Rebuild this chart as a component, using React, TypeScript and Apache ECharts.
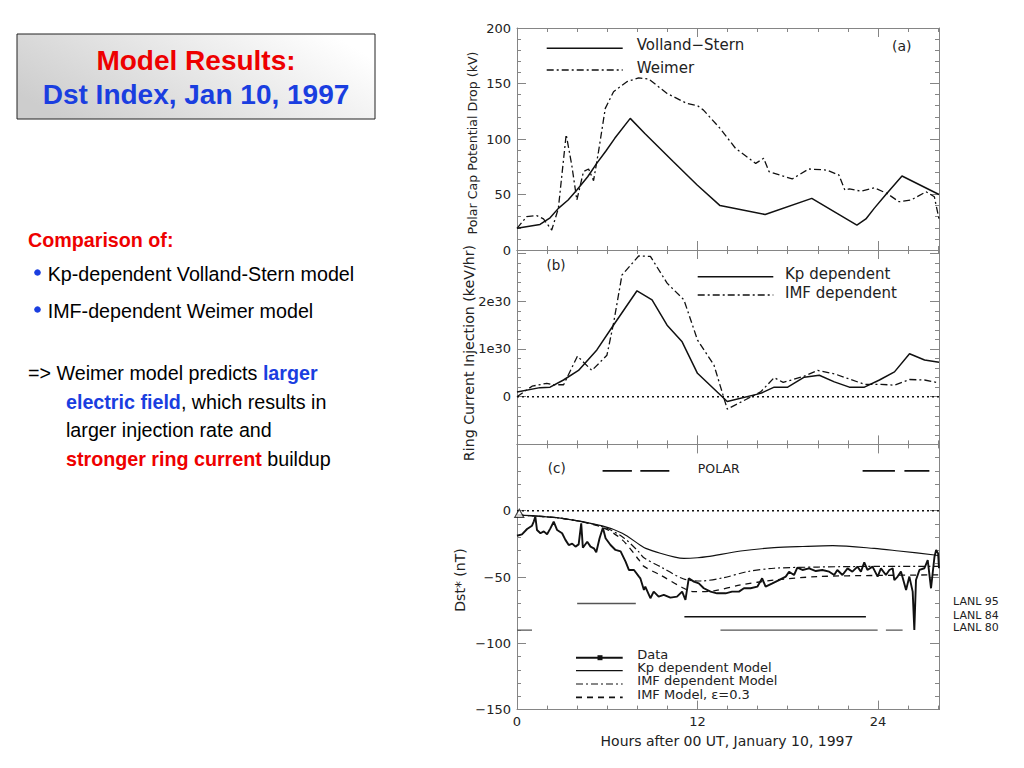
import React, { useEffect, useRef } from "react";
import * as echarts from "echarts";

// ---------- data (hours after 00 UT, value) ----------
const XMAX = 28.06;

// Panel (a): polar cap potential drop (kV)
const vollandStern: number[][] = [
  [0, 19.5], [1.53, 23], [2.2, 29], [2.75, 37.5], [3.4, 45], [3.98, 54], [4.7, 66], [5.3, 78],
  [5.9, 89], [6.5, 100.6], [7.53, 118.6], [8.5, 105], [10.4, 79.5], [11.98, 58.5], [13.5, 40],
  [16.5, 32], [19.6, 46.5], [22.6, 22.5], [23.2, 28], [23.75, 37.5], [24.5, 49.5], [25.6, 66.7],
  [28.06, 50],
];
const weimer: number[][] = [
  [0, 19.5], [0.64, 30], [1.31, 31], [1.76, 28], [2.31, 18], [2.75, 37.5], [3.27, 104], [3.64, 76.6],
  [3.98, 45], [4.42, 70.6], [4.76, 73], [5.09, 62.5], [5.42, 88.6], [5.87, 127.6], [6.42, 142.6],
  [7.31, 151.6], [8.09, 155], [8.76, 154], [9.98, 141], [11.3, 132], [12, 130], [12.4, 126],
  [13.5, 109.6], [14.53, 91.6], [15.87, 78], [16.4, 82.6], [16.76, 70.6], [18.3, 64], [19.4, 73],
  [20.6, 72], [21.4, 67.6], [21.8, 54], [22.1, 55], [22.87, 53], [23.75, 56], [24.6, 51],
  [25.4, 43.5], [26.2, 45], [27.2, 52.5], [27.75, 48], [28.06, 28],
];

// Panel (b): ring current injection (units of 1e30 keV/hr)
const kpInjection: number[][] = [
  [0, 0.1], [1.53, 0.19], [2.2, 0.2], [3.09, 0.35], [4.09, 0.55], [5.31, 0.98], [6.31, 1.45],
  [7.98, 2.22], [8.98, 2.03], [9.98, 1.5], [10.98, 1.15], [12, 0.49], [13.98, -0.1], [16.2, 0.07],
  [17.1, 0.2], [18, 0.2], [19.1, 0.41], [20.1, 0.45], [21.1, 0.31], [22.1, 0.2], [23.1, 0.2],
  [24.1, 0.35], [25.1, 0.52], [26.1, 0.9], [27.1, 0.77], [28.06, 0.72],
];
const imfInjection: number[][] = [
  [0, 0], [1, 0.22], [1.98, 0.28], [2.4, 0.25], [3.1, 0.25], [4.02, 0.85], [4.98, 0.55], [5.98, 0.87],
  [6.42, 1.54], [6.98, 2.55], [8.09, 2.95], [8.87, 2.94], [9.98, 2.38], [11.1, 2.03], [12, 1.19],
  [13.1, 0.66], [13.98, -0.26], [16.2, 0.1], [17.1, 0.4], [17.7, 0.3], [19.1, 0.43], [20, 0.55],
  [21.1, 0.48], [23.1, 0.26], [24.2, 0.26], [25.1, 0.24], [26.1, 0.36], [27.1, 0.35], [28.06, 0.29],
];

// Panel (c): Dst* (nT)
const dstData: number[][] = [
  [0, -18.9], [0.33, -17.8], [0.67, -13.8], [1.0, -11.3], [1.12, -8], [1.22, -4.5], [1.33, -14.6],
  [1.56, -17], [1.78, -15.6], [2.0, -17.8], [2.22, -13.3], [2.44, -8.3], [2.67, -14.6], [3.0, -17],
  [3.22, -22], [3.44, -25.9], [3.67, -24.8], [3.89, -27.1], [4.1, -25.4], [4.27, -9.5], [4.38, -27.9],
  [4.67, -23.4], [4.89, -27.1], [5.11, -28.4], [5.27, -31.4], [5.49, -20.8], [5.71, -12.8],
  [5.89, -20.8], [6.22, -25.9], [6.55, -29.6], [6.89, -30.7], [7.22, -38.4], [7.44, -44.7],
  [7.78, -44.7], [8.11, -49.7], [8.2, -51], [8.44, -59.8], [8.53, -57.3], [8.87, -66], [9.09, -61],
  [9.42, -64.8], [9.76, -63.5], [10.2, -65.6], [10.64, -64.8], [10.98, -61], [11.2, -67.3],
  [11.42, -51], [11.76, -53.5], [12.09, -54.8], [12.42, -58.5], [12.87, -61], [13.3, -62.3],
  [13.87, -62.3], [14.3, -61], [14.76, -61], [15.09, -58.5], [15.53, -58.5], [15.98, -57.3],
  [16.3, -51], [16.53, -57.3], [16.98, -54.8], [17.42, -52.3], [17.87, -49.7], [18.09, -46],
  [18.42, -48.5], [18.64, -43], [18.98, -44.7], [19.42, -43.5], [19.87, -45.5], [20.3, -44.7],
  [20.76, -46], [21.09, -48.5], [21.3, -44.7], [21.64, -48.5], [21.98, -43.5], [22.3, -46],
  [22.64, -42.2], [22.87, -46], [23.09, -38.9], [23.3, -44.7], [23.64, -42.2], [23.98, -49.7],
  [24.2, -43.5], [24.53, -48.5], [24.76, -44.7], [24.98, -43.4], [25.09, -52.3], [25.31, -49.7],
  [25.53, -45.9], [25.87, -59.8], [26.09, -49.7], [26.31, -61], [26.42, -89.9], [26.53, -52.3],
  [26.76, -44.7], [27.09, -43.4], [27.31, -37.2], [27.53, -58.5], [27.76, -34.7], [27.87, -29.6],
  [28.0, -32.2], [28.06, -43.4],
];
const kpModel: number[][] = [
  [0, -3.2], [3, -5.8], [5.67, -11.5], [7, -17], [8.2, -26], [8.56, -28.4], [9.53, -32.1],
  [10.5, -35], [11.09, -35.9], [12, -35.5], [12.64, -34.7], [14.87, -30.4], [17.1, -27.9],
  [19, -27], [21, -26.4], [23.75, -28.4], [25.4, -30.4], [27.76, -33.4], [28.06, -34],
];
const imfModel: number[][] = [
  [0, -3.2], [3, -5.8], [5.67, -12], [7, -19.6], [8.1, -31], [8.44, -35.5], [9.53, -42.2],
  [11.09, -51.5], [12.2, -53], [13.75, -50.5], [15.3, -46], [17.1, -43.4], [20, -42.5],
  [24, -42], [28.06, -42],
];
const imfModelEps: number[][] = [
  [0, -3.2], [3, -5.8], [5.67, -12.5], [7, -22], [8.1, -37], [8.44, -42], [9.53, -48.5],
  [11.09, -58.5], [11.76, -61], [13.1, -60.4], [14.87, -56], [17.1, -52.3], [20, -49.7],
  [24, -48.8], [28.06, -48.4],
];
const firstDataPoint: number[][] = [[0.15, -2]];

// Satellite coverage segments
const polarSegments: number[][][] = [
  [[5.69, 30], [7.64, 30]], [[8.2, 30], [10.13, 30]], [[22.98, 30], [25.13, 30]], [[25.76, 30], [27.42, 30]],
];
const lanl95Segments: number[][][] = [[[4, -70], [7.9, -70]]];
const lanl84Segments: number[][][] = [[[11.13, -80], [23.2, -80]]];
const lanl80Segments: number[][][] = [[[0, -90], [1, -90]], [[13.53, -90], [23.98, -90]], [[24.53, -90], [25.64, -90]]];

const xTickLabels = [0, 12, 24];
const dstTickLabels = [0, -50, -100, -150];
const injTickLabels = [0, 1, 2];

// ---------- styling ----------
const FRAME = "#858585";
const INK = "#111";
const TXT = "#222";
const PF = "DejaVu Sans";
const BF = "Liberation Sans";
const RED = "#ee0000";
const BLUE = "#1a3ee0";
const DASHDOT = [7, 3, 2, 3];
const DASHED = [6, 5];
const DOTTED = [2, 3];

const grids = [
  { left: 517, width: 422, top: 28, height: 222, outerBoundsMode: "none" },
  { left: 517, width: 422, top: 250, height: 194.4, outerBoundsMode: "none" },
  { left: 517, width: 422, top: 444.4, height: 265.2, outerBoundsMode: "none" },
];

const yCfg = [
  { min: 0, max: 200, major: 50, minor: 10, fmt: (v: number) => (v >= 0 && v <= 200 && v % 50 === 0 ? String(v) : "") },
  { min: -1, max: 3.075, major: 1, minor: 0.2, fmt: (v: number) => (injTickLabels.includes(v) ? (v === 0 ? "0" : v + "e30") : "") },
  { min: -150, max: 50, major: 50, minor: 10, fmt: (v: number) => (dstTickLabels.includes(v) ? (v < 0 ? "\u2212" + Math.abs(v) : "0") : "") },
];

function xAxesFor(g: number) {
  const base = (pos: string, interval: number, len: number, line: boolean, labels: boolean) => ({
    type: "value", gridIndex: g, position: pos, min: 0, max: XMAX, interval,
    splitLine: { show: false },
    axisLine: { show: line, onZero: false, lineStyle: { color: FRAME, width: 1 } },
    axisTick: { show: true, inside: true, length: len, lineStyle: { color: FRAME, width: 1 } },
    axisLabel: {
      show: labels, margin: 5, color: TXT, fontFamily: PF, fontSize: 13,
      showMaxLabel: false,
      formatter: (v: number) => (xTickLabels.includes(v) ? String(v) : ""),
    },
    silent: true,
  });
  return [
    base("bottom", 2, 4, true, false),
    base("bottom", 12, 9, false, g === 2),
    base("top", 2, 4, true, false),
    base("top", 12, 9, false, false),
  ];
}

function yAxesFor(g: number) {
  const c = yCfg[g];
  const base = (pos: string, interval: number, len: number, line: boolean, labels: boolean) => ({
    type: "value", gridIndex: g, position: pos, min: c.min, max: c.max, interval,
    splitLine: { show: false },
    axisLine: { show: line, onZero: false, lineStyle: { color: FRAME, width: 1 } },
    axisTick: { show: true, inside: true, length: len, lineStyle: { color: FRAME, width: 1 } },
    axisLabel: { show: labels, margin: 6, color: TXT, fontFamily: PF, fontSize: 13, formatter: c.fmt },
    silent: true,
  });
  return [
    base("left", c.minor, 4, true, false),
    base("left", c.major, 9, false, true),
    base("right", c.minor, 4, true, false),
    base("right", c.major, 9, false, false),
  ];
}

function line(data: number[][], g: number, width: number, type: any, opts: any = {}) {
  return {
    type: "line", xAxisIndex: 4 * g, yAxisIndex: 4 * g, data, symbol: "none", showSymbol: false,
    silent: true, smooth: opts.smooth || false, z: opts.z || 3,
    lineStyle: { color: opts.color || INK, width, type },
  };
}

function txt(x: number, y: number, text: string, size: number, opts: any = {}) {
  const align = opts.align || "left";
  return {
    type: "text", x, y, rotation: opts.rotation || 0, silent: true,
    style: {
      text, fill: opts.fill || TXT, fontSize: size, fontFamily: opts.font || PF,
      fontWeight: opts.weight || "normal",
      align, textAlign: align, verticalAlign: "middle", textVerticalAlign: "middle",
      rich: opts.rich,
    },
  };
}

function seg(x1: number, x2: number, y: number, width: number, dash: any, color = INK) {
  return {
    type: "line", silent: true,
    shape: { x1, y1: y, x2, y2: y },
    style: { stroke: color, lineWidth: width, lineDash: dash },
  };
}

const bodyRich = {
  b: { fill: BLUE, fontWeight: "bold", fontSize: 19.7, fontFamily: BF },
  r: { fill: RED, fontWeight: "bold", fontSize: 19.7, fontFamily: BF },
};

const graphics: any[] = [
  // Title box
  {
    type: "rect", silent: true, shape: { x: 17, y: 34, width: 358, height: 85 },
    style: {
      fill: { type: "linear", x: 0, y: 0.7, x2: 1, y2: 0.3, colorStops: [{ offset: 0, color: "#cdcdcd" }, { offset: 1, color: "#ffffff" }] },
      stroke: "#222", lineWidth: 1,
    },
  },
  txt(196, 60.5, "Model Results:", 28, { align: "center", fill: RED, weight: "bold", font: BF }),
  txt(196, 94.5, "Dst Index, Jan 10, 1997", 28, { align: "center", fill: BLUE, weight: "bold", font: BF }),
  // Body text
  txt(28, 239.5, "Comparison of:", 19.7, { fill: RED, weight: "bold", font: BF }),
  { type: "circle", silent: true, shape: { cx: 37.5, cy: 272.5, r: 3.3 }, style: { fill: BLUE } },
  txt(47.7, 274.2, "Kp-dependent Volland-Stern model", 19.7, { fill: "#000", font: BF }),
  { type: "circle", silent: true, shape: { cx: 37.5, cy: 309.5, r: 3.3 }, style: { fill: BLUE } },
  txt(47.7, 311.3, "IMF-dependent Weimer model", 19.7, { fill: "#000", font: BF }),
  txt(28, 372.8, "=> Weimer model predicts {b|larger}", 19.7, { fill: "#000", font: BF, rich: bodyRich }),
  txt(66, 401.5, "{b|electric field}, which results in", 19.7, { fill: "#000", font: BF, rich: bodyRich }),
  txt(66, 430.3, "larger injection rate and", 19.7, { fill: "#000", font: BF }),
  txt(66, 459, "{r|stronger ring current} buildup", 19.7, { fill: "#000", font: BF, rich: bodyRich }),
  // Axis titles
  txt(472, 143, "Polar Cap Potential Drop (kV)", 12.6, { align: "center", rotation: Math.PI / 2 }),
  txt(469, 353, "Ring Current Injection (keV/hr)", 14.2, { align: "center", rotation: Math.PI / 2 }),
  txt(460, 580, "Dst* (nT)", 14, { align: "center", rotation: Math.PI / 2 }),
  txt(727, 740.5, "Hours after 00 UT, January 10, 1997", 14, { align: "center" }),
  // Panel (a) legend
  seg(546.7, 622.7, 48.3, 1.5, null),
  txt(636.7, 45, "Volland\u2212Stern", 15),
  seg(546.7, 622.7, 70, 1.3, DASHDOT),
  txt(636.7, 67.5, "Weimer", 15),
  txt(901.7, 45.5, "(a)", 14, { align: "center" }),
  // Panel (b) legend
  seg(697.7, 773.3, 276.7, 1.5, null),
  txt(785, 273.5, "Kp dependent", 15),
  seg(697.7, 773.3, 295, 1.3, DASHDOT),
  txt(785, 292.5, "IMF dependent", 15),
  txt(556, 265, "(b)", 13.5, { align: "center" }),
  // Panel (c) annotations
  txt(556.7, 468, "(c)", 13.5, { align: "center" }),
  txt(718.7, 468, "POLAR", 12.5, { align: "center" }),
  seg(576, 622.7, 657.7, 2, null),
  { type: "rect", silent: true, shape: { x: 597.5, y: 655.2, width: 5, height: 5 }, style: { fill: INK } },
  txt(637.3, 654, "Data", 13),
  seg(576, 622.7, 670.7, 1.2, null),
  txt(637.3, 667.3, "Kp dependent Model", 13),
  seg(576, 622.7, 684, 1.2, DASHDOT),
  txt(637.3, 680.7, "IMF dependent Model", 13),
  seg(576, 622.7, 697.3, 1.8, DASHED),
  txt(637.3, 694, "IMF Model, \u03b5=0.3", 13),
  txt(953, 601.7, "LANL 95", 11),
  txt(953, 615, "LANL 84", 11),
  txt(953, 627.7, "LANL 80", 11),
];

const series: any[] = [
  line(vollandStern, 0, 1.5, "solid"),
  line(weimer, 0, 1.3, DASHDOT),
  line([[0, 0], [XMAX, 0]], 1, 1.5, DOTTED),
  line(kpInjection, 1, 1.5, "solid"),
  line(imfInjection, 1, 1.3, DASHDOT),
  line([[0, 0], [XMAX, 0]], 2, 1.5, DOTTED),
  line(kpModel, 2, 1.2, "solid", { smooth: 0.3 }),
  line(imfModel, 2, 1.2, DASHDOT, { smooth: 0.3 }),
  line(imfModelEps, 2, 1.3, DASHED, { smooth: 0.3 }),
  line(dstData, 2, 1.9, "solid", { z: 4 }),
  ...polarSegments.map((s) => line(s, 2, 1.8, "solid")),
  ...lanl95Segments.map((s) => line(s, 2, 1.3, "solid", { color: "#555" })),
  ...lanl84Segments.map((s) => line(s, 2, 1.6, "solid")),
  ...lanl80Segments.map((s) => line(s, 2, 1.3, "solid", { color: "#555" })),
  {
    type: "scatter", xAxisIndex: 8, yAxisIndex: 8, data: firstDataPoint, symbol: "triangle",
    symbolSize: [9, 8], silent: true, z: 5,
    itemStyle: { color: "#fff", borderColor: INK, borderWidth: 1.2 },
  },
];

const option: any = {
  animation: false,
  backgroundColor: "#fff",
  grid: grids,
  xAxis: [...xAxesFor(0), ...xAxesFor(1), ...xAxesFor(2)],
  yAxis: [...yAxesFor(0), ...yAxesFor(1), ...yAxesFor(2)],
  series,
  graphic: { elements: graphics },
};

export default function App() {
  const ref = useRef<HTMLDivElement>(null);
  useEffect(() => {
    if (!ref.current) return;
    const chart = echarts.init(ref.current, undefined, { renderer: "svg" });
    chart.setOption(option);
    return () => chart.dispose();
  }, []);
  return (
    <div
      ref={ref}
      style={{ position: "absolute", left: 0, top: 0, width: 1024, height: 768, background: "#fff" }}
    />
  );
}
